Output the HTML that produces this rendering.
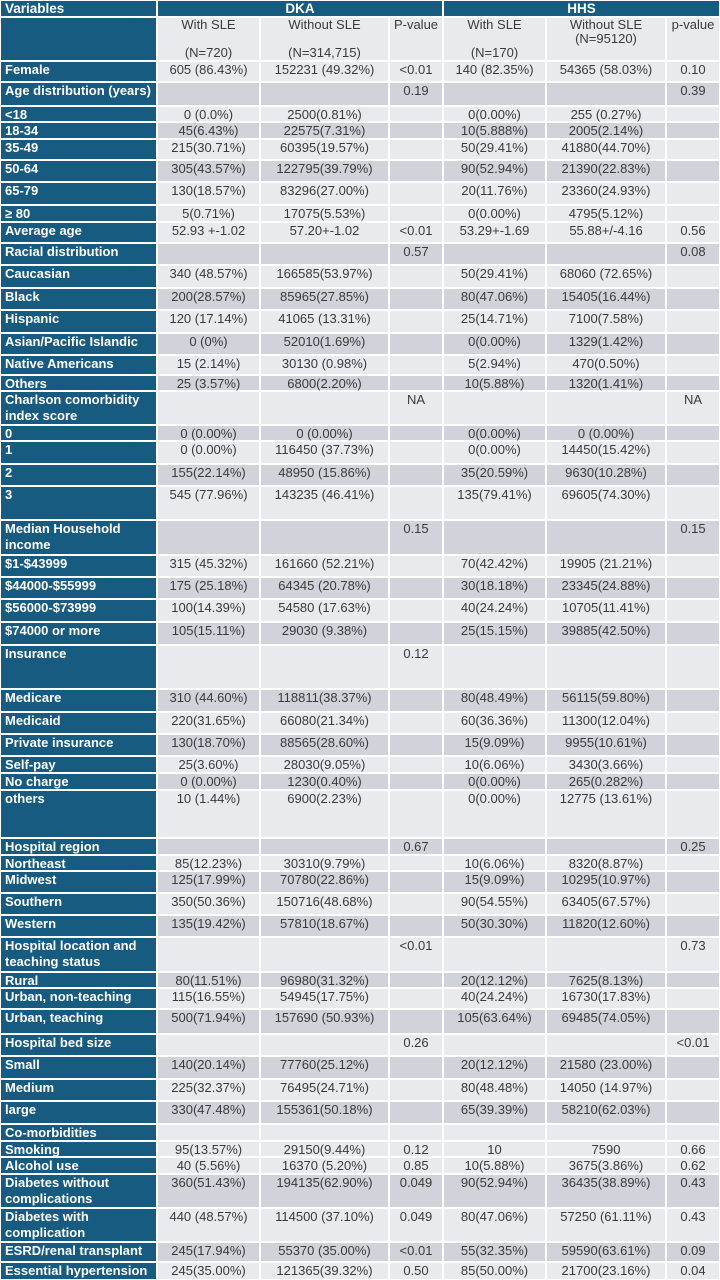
<!DOCTYPE html>
<html><head><meta charset="utf-8">
<style>
html,body{margin:0;padding:0;background:#fff;}
#t{position:relative;width:720px;height:1280px;background:#fff;overflow:hidden;font-family:"Liberation Sans",sans-serif;}
.c{position:absolute;box-sizing:border-box;font-size:13px;line-height:16px;color:#3a3a3a;text-align:center;padding-top:0;white-space:nowrap;}
.lab{background:#175b80;color:#fff;font-weight:bold;font-size:13px;text-align:left;padding-left:4px;}
.hd{background:#175b80;color:#fff;font-weight:bold;font-size:13.5px;line-height:16px;padding-top:0;}
</style></head><body>
<div id="t"></div>
<script>
const colX=[0,157,260,389,443,546,666,720];
const L='#e8eaee',D='#d0d4da';
const rows=[
["Female",21,L,"605 (86.43%)","152231 (49.32%)","<0.01","140 (82.35%)","54365 (58.03%)","0.10"],
["Age distribution (years)",24,D,"","","0.19","","","0.39"],
["<18",16,L,"0 (0.0%)","2500(0.81%)","","0(0.00%)","255 (0.27%)",""],
["18-34",17,D,"45(6.43%)","22575(7.31%)","","10(5.888%)","2005(2.14%)",""],
["35-49",21,L,"215(30.71%)","60395(19.57%)","","50(29.41%)","41880(44.70%)",""],
["50-64",22,D,"305(43.57%)","122795(39.79%)","","90(52.94%)","21390(22.83%)",""],
["65-79",23,L,"130(18.57%)","83296(27.00%)","","20(11.76%)","23360(24.93%)",""],
["≥ 80",17,L,"5(0.71%)","17075(5.53%)","","0(0.00%)","4795(5.12%)",""],
["Average age",21,L,"52.93 +-1.02","57.20+-1.02","<0.01","53.29+-1.69","55.88+/-4.16","0.56"],
["Racial distribution",22,D,"","","0.57","","","0.08"],
["Caucasian",23,L,"340 (48.57%)","166585(53.97%)","","50(29.41%)","68060 (72.65%)",""],
["Black",22,D,"200(28.57%)","85965(27.85%)","","80(47.06%)","15405(16.44%)",""],
["Hispanic",23,L,"120 (17.14%)","41065 (13.31%)","","25(14.71%)","7100(7.58%)",""],
["Asian/Pacific Islandic",22,D,"0 (0%)","52010(1.69%)","","0(0.00%)","1329(1.42%)",""],
["Native Americans",20,L,"15 (2.14%)","30130 (0.98%)","","5(2.94%)","470(0.50%)",""],
["Others",16,D,"25 (3.57%)","6800(2.20%)","","10(5.88%)","1320(1.41%)",""],
["Charlson comorbidity<br>index score",34,L,"","","NA","","","NA"],
["0",16,D,"0 (0.00%)","0 (0.00%)","","0(0.00%)","0 (0.00%)",""],
["1",23,L,"0 (0.00%)","116450 (37.73%)","","0(0.00%)","14450(15.42%)",""],
["2",22,D,"155(22.14%)","48950 (15.86%)","","35(20.59%)","9630(10.28%)",""],
["3",34,L,"545 (77.96%)","143235 (46.41%)","","135(79.41%)","69605(74.30%)",""],
["Median Household<br>income",35,D,"","","0.15","","","0.15"],
["$1-$43999",22,L,"315 (45.32%)","161660 (52.21%)","","70(42.42%)","19905 (21.21%)",""],
["$44000-$55999",22,D,"175 (25.18%)","64345 (20.78%)","","30(18.18%)","23345(24.88%)",""],
["$56000-$73999",23,L,"100(14.39%)","54580 (17.63%)","","40(24.24%)","10705(11.41%)",""],
["$74000 or more",23,D,"105(15.11%)","29030 (9.38%)","","25(15.15%)","39885(42.50%)",""],
["Insurance",44,L,"","","0.12","","",""],
["Medicare",23,D,"310 (44.60%)","118811(38.37%)","","80(48.49%)","56115(59.80%)",""],
["Medicaid",22,L,"220(31.65%)","66080(21.34%)","","60(36.36%)","11300(12.04%)",""],
["Private insurance",22,D,"130(18.70%)","88565(28.60%)","","15(9.09%)","9955(10.61%)",""],
["Self-pay",17,L,"25(3.60%)","28030(9.05%)","","10(6.06%)","3430(3.66%)",""],
["No charge",17,D,"0 (0.00%)","1230(0.40%)","","0(0.00%)","265(0.282%)",""],
["others",48,L,"10 (1.44%)","6900(2.23%)","","0(0.00%)","12775 (13.61%)",""],
["Hospital region",17,D,"","","0.67","","","0.25"],
["Northeast",16,L,"85(12.23%)","30310(9.79%)","","10(6.06%)","8320(8.87%)",""],
["Midwest",22,D,"125(17.99%)","70780(22.86%)","","15(9.09%)","10295(10.97%)",""],
["Southern",22,L,"350(50.36%)","150716(48.68%)","","90(54.55%)","63405(67.57%)",""],
["Western",22,D,"135(19.42%)","57810(18.67%)","","50(30.30%)","11820(12.60%)",""],
["Hospital location and<br>teaching status",35,L,"","","<0.01","","","0.73"],
["Rural",16,D,"80(11.51%)","96980(31.32%)","","20(12.12%)","7625(8.13%)",""],
["Urban, non-teaching",21,L,"115(16.55%)","54945(17.75%)","","40(24.24%)","16730(17.83%)",""],
["Urban, teaching",25,D,"500(71.94%)","157690 (50.93%)","","105(63.64%)","69485(74.05%)",""],
["Hospital bed size",22,L,"","","0.26","","","<0.01"],
["Small",23,D,"140(20.14%)","77760(25.12%)","","20(12.12%)","21580 (23.00%)",""],
["Medium",22,L,"225(32.37%)","76495(24.71%)","","80(48.48%)","14050 (14.97%)",""],
["large",23,D,"330(47.48%)","155361(50.18%)","","65(39.39%)","58210(62.03%)",""],
["Co-morbidities",17,L,"","","","","",""],
["Smoking",16,L,"95(13.57%)","29150(9.44%)","0.12","10","7590","0.66"],
["Alcohol use",17,L,"40 (5.56%)","16370 (5.20%)","0.85","10(5.88%)","3675(3.86%)","0.62"],
["Diabetes without<br>complications",34,D,"360(51.43%)","194135(62.90%)","0.049","90(52.94%)","36435(38.89%)","0.43"],
["Diabetes with<br>complication",34,L,"440 (48.57%)","114500 (37.10%)","0.049","80(47.06%)","57250 (61.11%)","0.43"],
["ESRD/renal transplant",20,D,"245(17.94%)","55370 (35.00%)","<0.01","55(32.35%)","59590(63.61%)","0.09"],
["Essential hypertension",18,L,"245(35.00%)","121365(39.32%)","0.50","85(50.00%)","21700(23.16%)","0.04"]
];
const T=document.getElementById('t');
function cell(x0,x1,y0,y1,cls,bg,html){
  const d=document.createElement('div');
  d.className='c '+cls;
  d.style.left=(x0+1)+'px';d.style.width=(x1-x0-2)+'px';
  d.style.top=(y0+1)+'px';d.style.height=(y1-y0-2)+'px';
  if(bg)d.style.background=bg;
  d.innerHTML=html;
  T.appendChild(d);
  return d;
}
let h=cell(0,157,0,17,'hd','', 'Variables');h.style.textAlign='left';h.style.paddingLeft='4px';


h=cell(157,443,0,17,'hd','','DKA');


h=cell(443,720,0,17,'hd','','HHS');


h=cell(0,157,17,61,'lab','','');


const sub=['With SLE<br><br>(N=720)','Without SLE<br><br>(N=314,715)','P-value','With SLE<br><br>(N=170)','Without SLE<br>(N=95120)','p-value'];
for(let i=0;i<6;i++){
  h=cell(colX[i+1],colX[i+2],17,61,'',L,sub[i]);
  h.style.lineHeight='14px';
  
  
}
let y=61;
rows.forEach(r=>{
  const y1=y+r[1];
  const lc=cell(0,157,y,y1,'lab','',r[0]);
  
  
  for(let i=0;i<6;i++){
    const c=cell(colX[i+1],colX[i+2],y,y1,'',r[2],r[3+i]);
    
    
  }
  y=y1;
});
</script>
</body></html>
